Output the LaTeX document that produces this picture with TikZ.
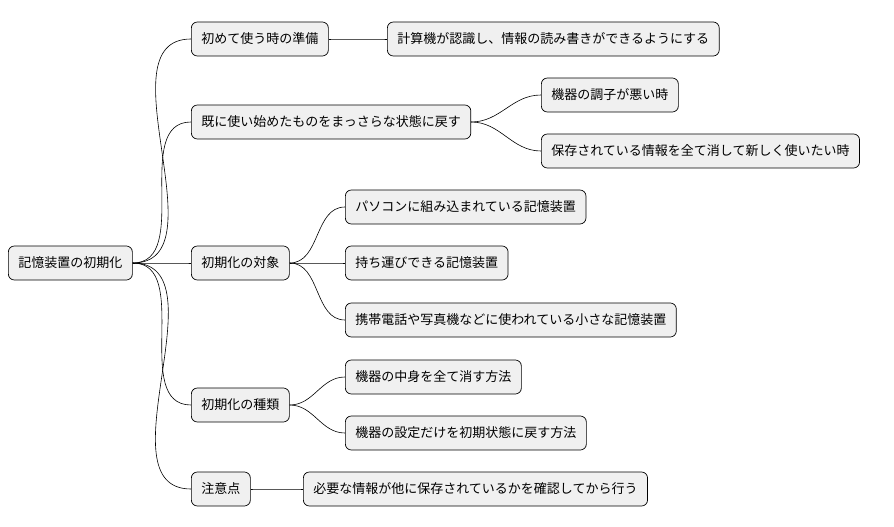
\documentclass[tikz,border=0pt]{standalone}
\usepackage{fontspec}
\setmainfont{Noto Sans CJK JP}
\usepackage{tikz}

\begin{document}
\begin{tikzpicture}[x=1pt, y=-1pt,
  every node/.style = {shape=rectangle, rounded corners=6pt,
    draw, anchor=west, fill=black!6, line width=0.7pt,
    minimum height=34pt, inner xsep=10pt, font=\fontsize{13}{15}\selectfont},
  link/.style = {draw, line width=0.6pt}]
  \useasboundingbox (0,0) rectangle (894,527);
  \node (root) at (8,263) {記憶装置の初期化};
  % first level
  \node (prep) at (191,39) {初めて使う時の準備};
  \node (reset) at (191,122) {既に使い始めたものをまっさらな状態に戻す};
  \node (target) at (191,263) {初期化の対象};
  \node (kind) at (191,405) {初期化の種類};
  \node (note) at (191,489) {注意点};
  % second level
  \node (prepA) at (387,39) {計算機が認識し、情報の読み書きができるようにする};
  \node (resetA) at (541,95) {機器の調子が悪い時};
  \node (resetB) at (541,151) {保存されている情報を全て消して新しく使いたい時};
  \node (targetA) at (345,207) {パソコンに組み込まれている記憶装置};
  \node (targetB) at (345,263) {持ち運びできる記憶装置};
  \node (targetC) at (345,320) {携帯電話や写真機などに使われている小さな記憶装置};
  \node (kindA) at (345,377) {機器の中身を全て消す方法};
  \node (kindB) at (345,433) {機器の設定だけを初期状態に戻す方法};
  \node (noteA) at (303,489) {必要な情報が他に保存されているかを確認してから行う};

  \foreach \a/\b in {root/prep, root/reset, root/target, root/kind, root/note,
      prep/prepA, reset/resetA, reset/resetB,
      target/targetA, target/targetB, target/targetC,
      kind/kindA, kind/kindB, note/noteA}
    \draw[link] (\a.east) to[out=0, in=180] (\b.west);
\end{tikzpicture}
\end{document}
